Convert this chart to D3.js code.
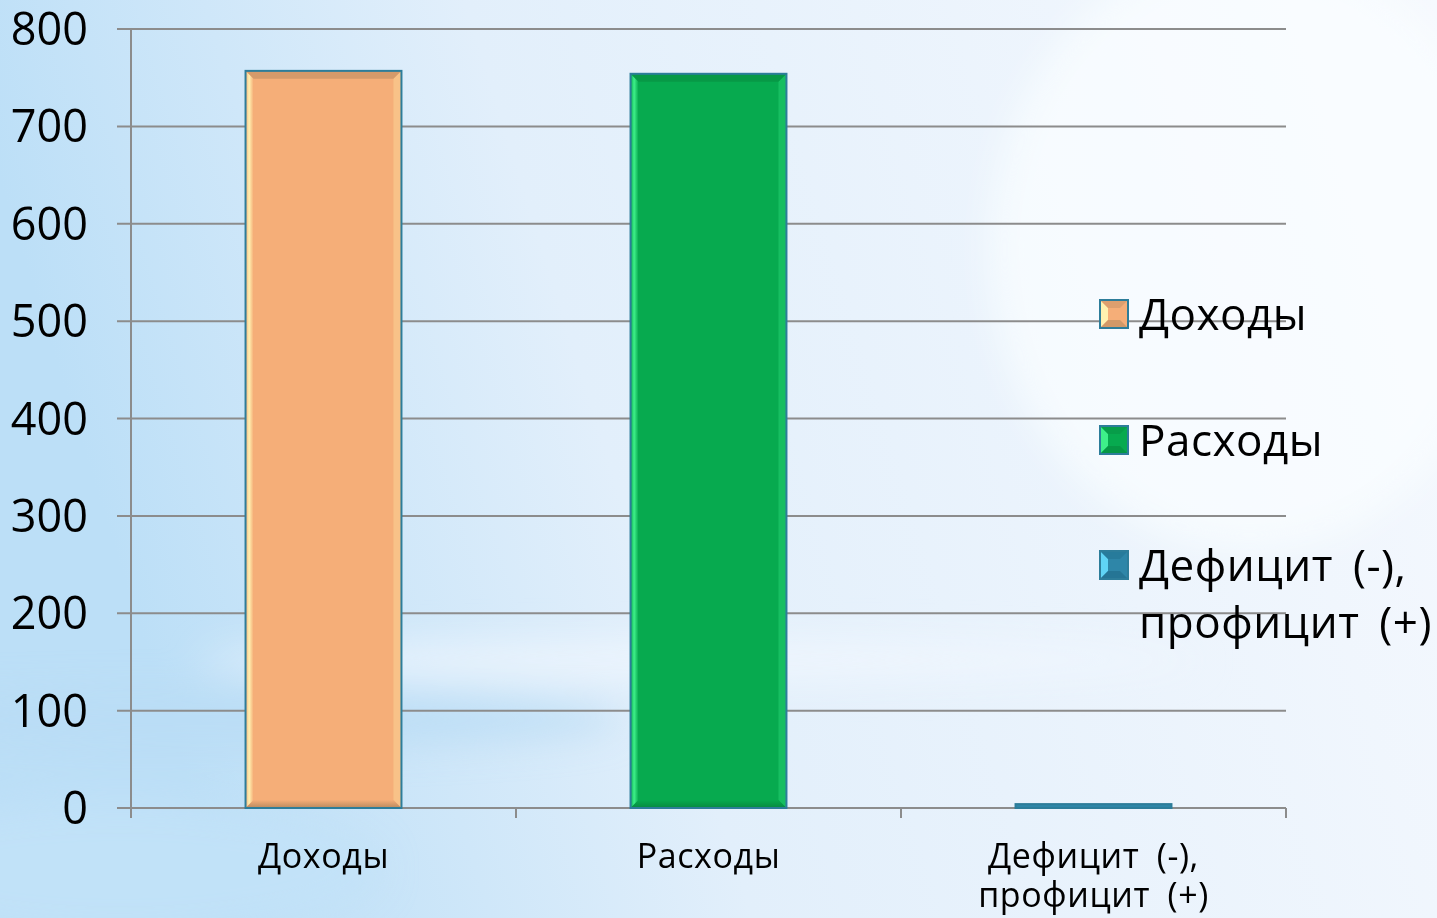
<!DOCTYPE html>
<html>
<head>
<meta charset="utf-8">
<script src="https://cdn.jsdelivr.net/npm/d3@7"></script>
<style>
  html, body { margin: 0; padding: 0; overflow: hidden; }
  svg { display: block; font-family: "Open Sans", "DejaVu Sans", sans-serif; }
</style>
</head>
<body>
<svg id="chart" width="1437" height="918"></svg>
<script>
// --- data ---
const categories = ["Доходы", "Расходы", "Дефицит (-), профицит (+)"];
const values = [757, 754, 4];
const yTicks = [0, 100, 200, 300, 400, 500, 600, 700, 800];
const xLabelLines = [["Доходы"], ["Расходы"], ["Дефицит (-),", "профицит (+)"]];
const legendLines = [["Доходы"], ["Расходы"], ["Дефицит (-),", "профицит (+)"]];
const colors = ["#f5ae78", "#07aa4f", "#2e86a8"];
const lightEdge = ["#fff1b0", "#3ef08a", "#60d4f5"];
const darkEdge = ["#b98a5e", "#078a40", "#1f6b88"];

const W = 1437, H = 918;
const plot = { left: 131, right: 1286, top: 29, bottom: 808 };

const svg = d3.select("#chart");
const defs = svg.append("defs");

// --- background ---
const bg = defs.append("linearGradient").attr("id", "bg").attr("x1", 0).attr("x2", 1).attr("y1", 0.2).attr("y2", 0);
bg.append("stop").attr("offset", 0).attr("stop-color", "#bcdff7");
bg.append("stop").attr("offset", 0.35).attr("stop-color", "#e2effb");
bg.append("stop").attr("offset", 1).attr("stop-color", "#f6f9fe");
svg.append("rect").attr("width", W).attr("height", H).attr("fill", "url(#bg)");

const blur = defs.append("filter").attr("id", "blur").attr("x", "-50%").attr("y", "-50%").attr("width", "200%").attr("height", "200%");
blur.append("feGaussianBlur").attr("stdDeviation", 18);
const streaks = svg.append("g").attr("filter", "url(#blur)");
streaks.append("ellipse").attr("cx", 200).attr("cy", 720).attr("rx", 420).attr("ry", 28).attr("fill", "#b9dcf5").attr("opacity", 0.8);
streaks.append("ellipse").attr("cx", 700).attr("cy", 660).attr("rx", 500).attr("ry", 20).attr("fill", "#f2f8fe").attr("opacity", 0.7);
streaks.append("ellipse").attr("cx", 120).attr("cy", 870).attr("rx", 260).attr("ry", 70).attr("fill", "#c2e2f8").attr("opacity", 0.8);
streaks.append("ellipse").attr("cx", 1250).attr("cy", 250).attr("rx", 260).attr("ry", 300).attr("fill", "#fbfdff").attr("opacity", 0.7);

// --- scales ---
const x = d3.scaleBand().domain(categories).range([plot.left, plot.right]).paddingInner(0.595).paddingOuter(0.2975);
const y = d3.scaleLinear().domain([0, 800]).range([plot.bottom, plot.top]);
const x0 = plot.left, x1 = plot.right;

// --- grid ---
svg.append("g").selectAll("line").data(yTicks).join("line")
  .attr("x1", x0 - 14).attr("x2", x1)
  .attr("y1", d => y(d)).attr("y2", d => y(d))
  .attr("stroke", "#8c8c8c").attr("stroke-width", 2);

// y axis line
svg.append("line").attr("x1", x0).attr("x2", x0).attr("y1", y(800)).attr("y2", y(0) + 10)
  .attr("stroke", "#8c8c8c").attr("stroke-width", 2);

// category ticks
const tickXs = d3.range(categories.length + 1).map(i => x0 + i * (x1 - x0) / categories.length);
svg.append("g").selectAll("line").data(tickXs).join("line")
  .attr("x1", d => d).attr("x2", d => d)
  .attr("y1", y(0)).attr("y2", y(0) + 10)
  .attr("stroke", "#8c8c8c").attr("stroke-width", 2);

// y labels
svg.append("g").selectAll("text").data(yTicks).join("text")
  .attr("x", 88).attr("y", d => y(d) + 16)
  .attr("text-anchor", "end").attr("font-size", 45).attr("fill", "#000")
  .text(d => d);

// --- bars with bevel ---
const bars = svg.append("g").selectAll("g").data(categories).join("g");
bars.each(function(c, i) {
  const g = d3.select(this);
  const bx = x(c), bw = x.bandwidth();
  const top = y(values[i]), bot = y(0);
  const h = bot - top;
  const e = 8;
  g.append("rect").attr("x", bx).attr("y", top).attr("width", bw).attr("height", h).attr("fill", colors[i]);
  if (h > 20) {
    const lg = defs.append("linearGradient").attr("id", "lg" + i).attr("x1", 0).attr("x2", 1);
    lg.append("stop").attr("offset", 0).attr("stop-color", colors[i]);
    lg.append("stop").attr("offset", 0.45).attr("stop-color", lightEdge[i]);
    lg.append("stop").attr("offset", 1).attr("stop-color", colors[i]);
    g.append("path").attr("d", `M${bx},${top}L${bx + e},${top + e}L${bx + e},${bot - e}L${bx},${bot}Z`).attr("fill", "url(#lg" + i + ")");
    g.append("path").attr("d", `M${bx + bw},${top}L${bx + bw - e},${top + e}L${bx + bw - e},${bot - e}L${bx + bw},${bot}Z`)
      .attr("fill", lightEdge[i]).attr("opacity", 0.3);
    g.append("path").attr("d", `M${bx},${top}L${bx + bw},${top}L${bx + bw - e},${top + e}L${bx + e},${top + e}Z`)
      .attr("fill", darkEdge[i]).attr("opacity", 0.55);
    const bgr = defs.append("linearGradient").attr("id", "bb" + i).attr("x1", 0).attr("x2", 0).attr("y1", 0).attr("y2", 1);
    bgr.append("stop").attr("offset", 0).attr("stop-color", colors[i]);
    bgr.append("stop").attr("offset", 1).attr("stop-color", darkEdge[i]);
    g.append("path").attr("d", `M${bx},${bot}L${bx + bw},${bot}L${bx + bw - e},${bot - e}L${bx + e},${bot - e}Z`)
      .attr("fill", "url(#bb" + i + ")");
  }
  g.append("rect").attr("x", bx).attr("y", top).attr("width", bw).attr("height", h)
    .attr("fill", "none").attr("stroke", "#2d7d9a").attr("stroke-width", 2);
});

// x labels: one text per line
const xl = svg.append("g");
categories.forEach((c, i) => {
  xLabelLines[i].forEach((t, j) => {
    xl.append("text")
      .attr("x", x(c) + x.bandwidth() / 2).attr("y", 868 + j * 39)
      .attr("text-anchor", "middle").attr("font-size", 34).attr("fill", "#000")
      .attr("word-spacing", 8).attr("letter-spacing", 0.6)
      .text(t);
  });
});

// --- legend ---
const legendY = [314, 440, 565];
const leg = svg.append("g").selectAll("g").data(categories).join("g")
  .attr("transform", (d, i) => `translate(1100,${legendY[i]})`);
leg.each(function(d, i) {
  const g = d3.select(this);
  const s = 28, e = 8;
  g.append("rect").attr("x", 0).attr("y", -s / 2).attr("width", s).attr("height", s).attr("fill", colors[i]);
  g.append("path").attr("d", `M0,${-s / 2}L${e},${-s / 2 + e}L${e},${s / 2 - e}L0,${s / 2}Z`).attr("fill", lightEdge[i]);
  g.append("path").attr("d", `M0,${-s / 2}L${s},${-s / 2}L${s - e},${-s / 2 + e}L${e},${-s / 2 + e}Z`).attr("fill", darkEdge[i]).attr("opacity", 0.4);
  g.append("path").attr("d", `M0,${s / 2}L${s},${s / 2}L${s - e},${s / 2 - e}L${e},${s / 2 - e}Z`).attr("fill", darkEdge[i]).attr("opacity", 0.6);
  g.append("rect").attr("x", 0).attr("y", -s / 2).attr("width", s).attr("height", s)
    .attr("fill", "none").attr("stroke", "#2d7d9a").attr("stroke-width", 2);
  legendLines[i].forEach((t, j) => {
    g.append("text").attr("x", 39).attr("y", 16 + j * 57)
      .attr("font-size", 44).attr("fill", "#000").attr("word-spacing", 8).attr("letter-spacing", 0.5)
      .text(t);
  });
});
</script>
</body>
</html>
